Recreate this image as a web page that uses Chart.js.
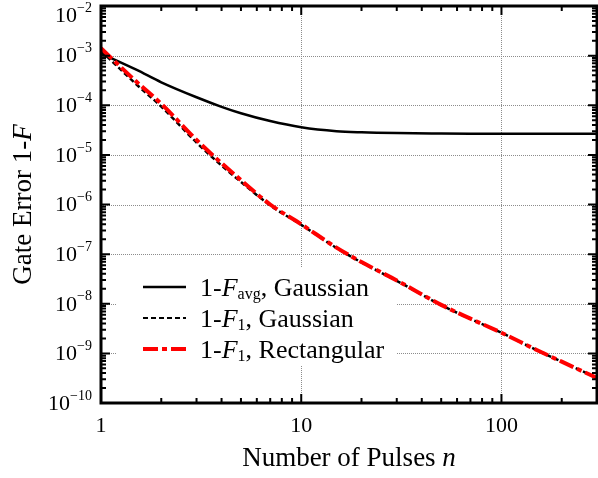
<!DOCTYPE html>
<html>
<head>
<meta charset="utf-8">
<script src="https://cdn.jsdelivr.net/npm/chart.js@4/dist/chart.umd.min.js"></script>
<style>
  html, body { margin: 0; padding: 0; background: #fff; }
  #wrap { width: 598px; height: 478px; }
</style>
</head>
<body>
<div id="wrap"><canvas id="c" width="598" height="478"></canvas></div>
<script>
// Number of pulses n
const pulses = [1, 1.5, 2, 3, 4, 5, 7, 10, 15, 20, 30, 50, 70, 100, 150, 200, 300];
// 1-F_avg, Gaussian
const errAvgGauss = [1.1e-3, 5.2e-4, 2.9e-4, 1.45e-4, 9.3e-5, 6.9e-5, 4.8e-5, 3.6e-5, 3.0e-5, 2.85e-5, 2.75e-5, 2.7e-5, 2.68e-5, 2.67e-5, 2.66e-5, 2.66e-5, 2.66e-5];
// 1-F_1, Gaussian
const errF1Gauss = [1.25e-3, 2.65e-4, 9.4e-5, 1.77e-5, 6.1e-6, 2.85e-6, 9.6e-7, 3.9e-7, 1.33e-7, 6.8e-8, 2.9e-8, 9.4e-9, 4.95e-9, 2.6e-9, 1.16e-9, 6.8e-10, 3.2e-10];
// 1-F_1, Rectangular
const errF1Rect = [1.41e-3, 3.0e-4, 1.07e-4, 2.0e-5, 6.8e-6, 3.1e-6, 1.0e-6, 4.0e-7, 1.35e-7, 6.9e-8, 2.95e-8, 9.5e-9, 5.0e-9, 2.6e-9, 1.17e-9, 6.8e-10, 3.2e-10];

const xMajorTicks = [1, 10, 100];
const xTickLabels = ['1', '10', '100'];
const yExponents = [-10, -9, -8, -7, -6, -5, -4, -3, -2];

const SERIF = '"Liberation Serif", "Times New Roman", serif';

function pts(ys) { return pulses.map((n, i) => ({ x: n, y: ys[i] })); }

// legend rows: text pieces with style, plus the line sample style
const legendRows = [
  { pieces: [['1-', 'n'], ['F', 'i'], ['avg', 'sub'], [', Gaussian', 'n']], color: '#000', width: 2.5, dash: [] },
  { pieces: [['1-', 'n'], ['F', 'i'], ['1', 'sub'], [', Gaussian', 'n']], color: '#000', width: 2, dash: [5, 3] },
  { pieces: [['1-', 'n'], ['F', 'i'], ['1', 'sub'], [', Rectangular', 'n']], color: '#ff0000', width: 4, dash: [15, 4, 5, 4] }
];

const decor = {
  id: 'decor',
  beforeDatasetsDraw(chart) {
    const ctx = chart.ctx, a = chart.chartArea;
    const xs = chart.scales.x, ys = chart.scales.y;
    ctx.save();
    ctx.strokeStyle = '#8c8c8c';
    ctx.lineWidth = 1;
    ctx.setLineDash([1, 1]);
    // horizontal grid at each inner decade
    yExponents.forEach(e => {
      if (e === -10 || e === -2) return;
      const y = Math.round(ys.getPixelForValue(Math.pow(10, e))) + 0.5;
      ctx.beginPath(); ctx.moveTo(a.left, y); ctx.lineTo(a.right, y); ctx.stroke();
    });
    // vertical grid at 10 and 100
    [10, 100].forEach(v => {
      const x = Math.round(xs.getPixelForValue(v)) + 0.5;
      ctx.beginPath(); ctx.moveTo(x, a.top); ctx.lineTo(x, a.bottom); ctx.stroke();
    });
    ctx.setLineDash([]);
    // legend background
    ctx.fillStyle = '#fff';
    ctx.fillRect(117, 268, 280, 98);
    ctx.restore();
  },
  afterDatasetsDraw(chart) {
    const ctx = chart.ctx, a = chart.chartArea;
    const xs = chart.scales.x, ys = chart.scales.y;
    ctx.save();
    ctx.strokeStyle = '#000';
    ctx.fillStyle = '#000';

    // ticks, drawn inward on all four sides
    ctx.lineWidth = 2;
    const majL = 9, minL = 5;
    for (let e = 0; e <= 2; e++) {
      for (let m = 1; m <= 9; m++) {
        const v = m * Math.pow(10, e);
        if (v > 300) break;
        const x = xs.getPixelForValue(v);
        const L = m === 1 ? majL : minL;
        ctx.beginPath();
        ctx.moveTo(x, a.bottom); ctx.lineTo(x, a.bottom - L);
        ctx.moveTo(x, a.top); ctx.lineTo(x, a.top + L);
        ctx.stroke();
      }
    }
    for (let e = -10; e <= -2; e++) {
      for (let m = 1; m <= 9; m++) {
        const v = m * Math.pow(10, e);
        if (e === -2 && m > 1) break;
        const y = ys.getPixelForValue(v);
        const L = m === 1 ? majL : minL;
        ctx.beginPath();
        ctx.moveTo(a.left, y); ctx.lineTo(a.left + L, y);
        ctx.moveTo(a.right, y); ctx.lineTo(a.right - L, y);
        ctx.stroke();
      }
    }

    // frame
    ctx.lineWidth = 3;
    ctx.strokeRect(a.left, a.top, a.right - a.left, a.bottom - a.top);

    // y tick labels: 10 with superscript exponent
    ctx.textBaseline = 'middle';
    ctx.textAlign = 'left';
    const rightEdge = 92;
    yExponents.forEach(e => {
      const y = Math.max(15, ys.getPixelForValue(Math.pow(10, e)));
      const sup = '\u2212' + Math.abs(e);
      ctx.font = '14px ' + SERIF;
      const w2 = ctx.measureText(sup).width;
      ctx.font = '22px ' + SERIF;
      const w1 = ctx.measureText('10').width;
      ctx.fillText('10', rightEdge - w2 - w1, y + 1);
      ctx.font = '14px ' + SERIF;
      ctx.fillText(sup, rightEdge - w2, y - 7);
    });

    // x tick labels
    ctx.textAlign = 'center';
    ctx.font = '22px ' + SERIF;
    xMajorTicks.forEach((v, i) => {
      ctx.fillText(xTickLabels[i], xs.getPixelForValue(v), 426);
    });

    // x axis title
    ctx.textBaseline = 'alphabetic';
    ctx.textAlign = 'left';
    const xt = [['Number of Pulses ', '27px ' + SERIF], ['n', 'italic 27px ' + SERIF]];
    let tw = 0;
    xt.forEach(p => { ctx.font = p[1]; tw += ctx.measureText(p[0]).width; });
    let cx = (a.left + a.right) / 2 - tw / 2;
    xt.forEach(p => { ctx.font = p[1]; ctx.fillText(p[0], cx, 466); cx += ctx.measureText(p[0]).width; });

    // y axis title
    ctx.save();
    ctx.translate(31, (a.top + a.bottom) / 2);
    ctx.rotate(-Math.PI / 2);
    const yt = [['Gate Error 1-', '27px ' + SERIF], ['F', 'italic 27px ' + SERIF]];
    tw = 0;
    yt.forEach(p => { ctx.font = p[1]; tw += ctx.measureText(p[0]).width; });
    cx = -tw / 2;
    yt.forEach(p => { ctx.font = p[1]; ctx.fillText(p[0], cx, 0); cx += ctx.measureText(p[0]).width; });
    ctx.restore();

    // legend
    const rowY = [287, 318, 349];
    legendRows.forEach((r, i) => {
      const y = rowY[i];
      ctx.save();
      ctx.strokeStyle = r.color;
      ctx.lineWidth = r.width;
      ctx.setLineDash(r.dash);
      ctx.beginPath(); ctx.moveTo(143, y); ctx.lineTo(186, y); ctx.stroke();
      ctx.restore();
      let x = 200;
      const base = y + 9;
      r.pieces.forEach(p => {
        let font = '26px ' + SERIF, dy = 0;
        if (p[1] === 'i') font = 'italic 26px ' + SERIF;
        if (p[1] === 'sub') { font = '16px ' + SERIF; dy = 3; }
        ctx.font = font;
        ctx.fillText(p[0], x, base + dy);
        x += ctx.measureText(p[0]).width;
      });
    });
    ctx.restore();
  }
};

new Chart(document.getElementById('c'), {
  type: 'line',
  data: {
    datasets: [
      { label: '1-F_avg, Gaussian', data: pts(errAvgGauss), borderColor: '#000', borderWidth: 2.5, order: 2 },
      { label: '1-F_1, Gaussian', data: pts(errF1Gauss), borderColor: '#000', borderWidth: 2.5, borderDash: [5, 3], order: 1 },
      { label: '1-F_1, Rectangular', data: pts(errF1Rect), borderColor: '#ff0000', borderWidth: 4, borderDash: [15, 4, 5, 4], order: 0 }
    ]
  },
  options: {
    responsive: false,
    animation: false,
    events: [],
    layout: { padding: { left: 101, right: 1, top: 6, bottom: 75 } },
    elements: {
      point: { radius: 0 },
      line: { cubicInterpolationMode: 'monotone', fill: false }
    },
    plugins: { legend: { display: false }, tooltip: { enabled: false } },
    scales: {
      x: { type: 'logarithmic', min: 1, max: 300, display: false },
      y: { type: 'logarithmic', min: 1e-10, max: 1e-2, display: false }
    }
  },
  plugins: [decor]
});
</script>
</body>
</html>
